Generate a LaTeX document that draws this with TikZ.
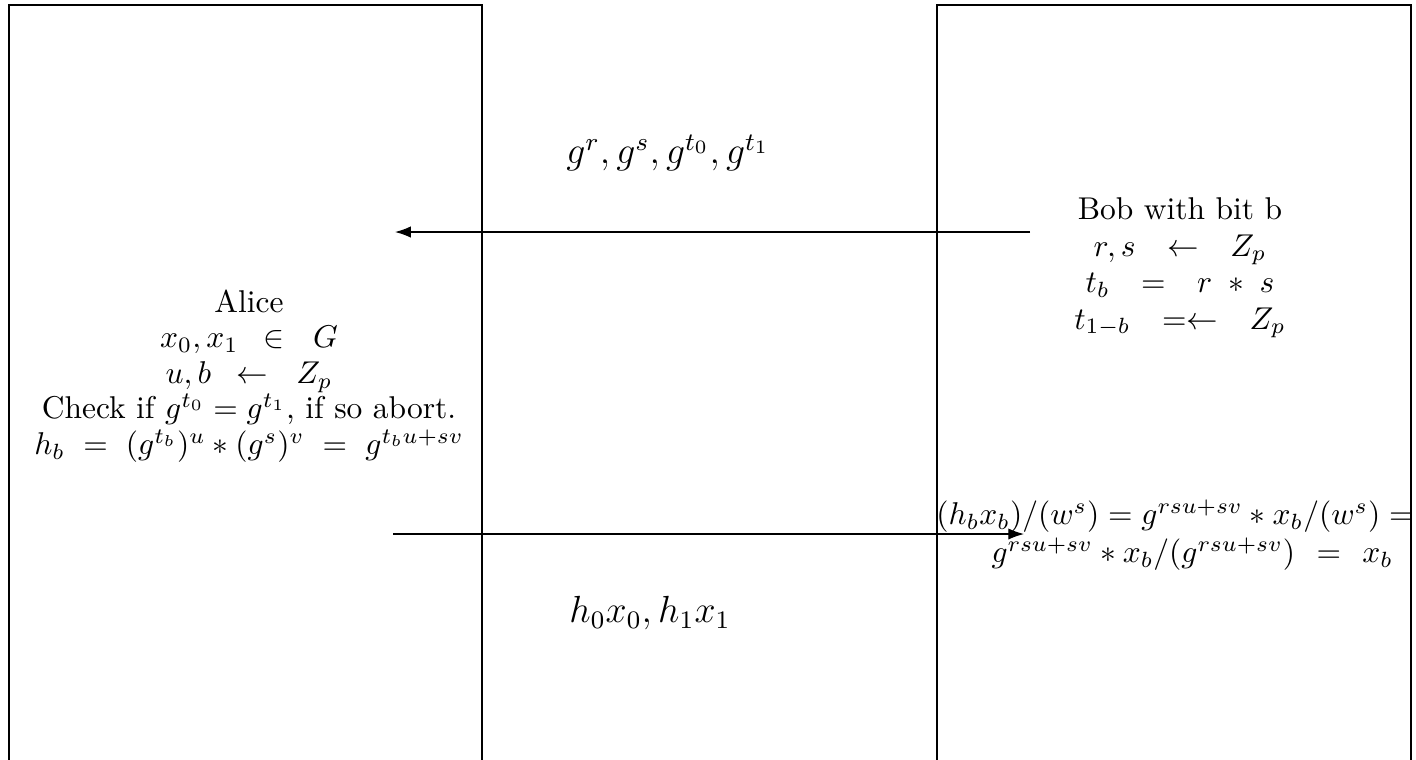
\documentclass[tikz,border=0pt]{standalone}
\usetikzlibrary{arrows.meta,fit}
\begin{document}
\begin{tikzpicture}[x=0.3175pt,y=-0.3175pt,
  party/.style={draw, line width=0.8pt, inner sep=0pt},
  msg/.style={-{Latex[length=5pt,width=3.6pt]}, line width=0.4pt},
  txt/.style={inner sep=0pt, align=center},
  big/.style={inner sep=0pt, font=\large}]
\useasboundingbox (0,0) rectangle (1416,759);
\clip (0,0) rectangle (1416,759);
% party boxes
\coordinate (a1) at (9,5);
\coordinate (a2) at (482,800);
\coordinate (b1) at (937,5);
\coordinate (b2) at (1411,800);
\node[party, fit=(a1)(a2)] (alice) {};
\node[party, fit=(b1)(b2)] (bob) {};
% texts
\node[txt, font=\fontsize{10pt}{11.3pt}\selectfont] (alicetext) at (249,376) {Alice\\
  ${x_0,x_1}\hspace{8pt}{\in}\hspace{9pt}{G}$\\
  ${u,b}\hspace{8pt}{\leftarrow}\hspace{9pt}{Z_p}$\\
  Check if $g^{t_0} = g^{t_1}$, if so abort.\\
  $h_b \hspace{3pt}=\hspace{3pt} (g^{t_b})^u * (g^s)^v \hspace{3pt}=\hspace{3pt} g^{t_bu+sv}$};
\node[txt, font=\fontsize{10pt}{11.6pt}\selectfont] (bobtext) at (1180,268) {Bob with bit b\\
  ${r,s}\hspace{10pt}{\leftarrow}\hspace{10pt}{Z_p}$\\
  ${t_b}\hspace{10pt}{=}\hspace{10pt}{r\;*\;s}$\\
  ${t_{1-b}}\hspace{10pt}{=\leftarrow}\hspace{10pt}{Z_p}$};
\node[txt] (bobcalc) at (1175,535) {$(h_bx_b)/(w^s) = g^{rsu+sv} * x_b/(w^s) =$\\
  \hspace*{11pt}$g^{rsu+sv} * x_b/(g^{rsu+sv}) \hspace{4pt}=\hspace{4pt} x_b$};
% messages
\coordinate (bobsend) at (1030,232);
\coordinate (alicerecv) at (395,232);
\coordinate (alicesend) at (393,534);
\coordinate (bobrecv) at (1024,534);
\draw[msg] (bobsend) -- (alicerecv);
\draw[msg] (alicesend) -- (bobrecv);
\node[big] (m1) at (668,153) {$g^r, g^s, g^{t_0}, g^{t_1}$};
\node[big] (m2) at (650,613) {$h_0x_0, h_1x_1$};
\end{tikzpicture}
\end{document}
